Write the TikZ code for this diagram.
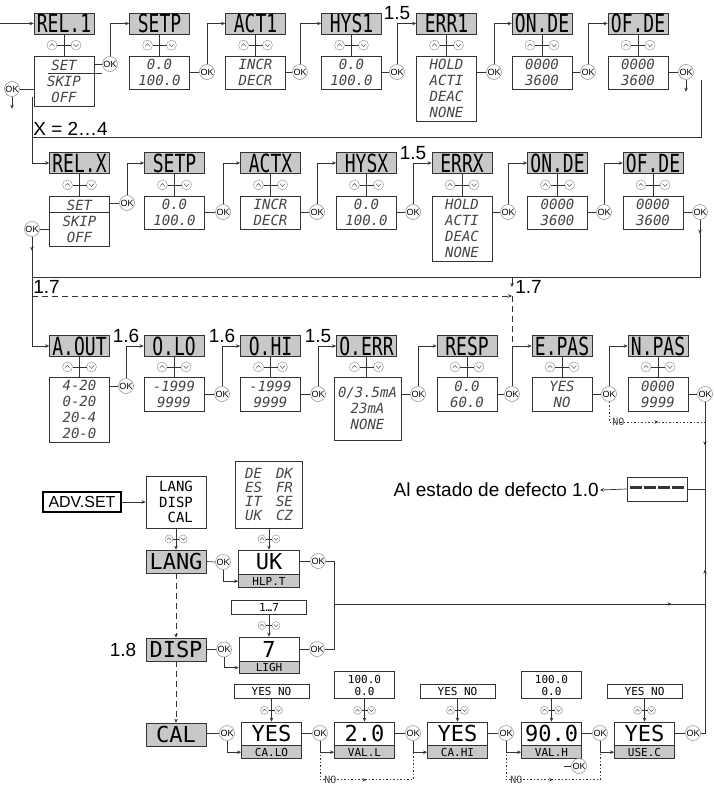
\documentclass[tikz,border=0pt]{standalone}
\usepackage{fontspec}
\setmainfont{Liberation Sans}
\newfontfamily\lcdfont{DejaVu Sans Mono}
\newfontfamily\lcdnarrow[FakeStretch=0.72]{DejaVu Sans Mono}
\usetikzlibrary{arrows.meta,positioning,calc,decorations.markings}

\definecolor{linec}{HTML}{333333}
\definecolor{hdrgray}{HTML}{C8C8C8}
\definecolor{okgray}{HTML}{9A9A9A}
\definecolor{segc}{HTML}{454545}

% up/down keys: centre, half gap, radius
\newcommand{\updown}[3]{%
  \begin{scope}[shift={(#1)}, line width=0.5pt]
    \draw[okgray, fill=white] (-#2,0) circle (#3pt) (#2,0) circle (#3pt);
    \draw[linec, line width=0.7pt] (-#2+#3,0) -- (#2-#3,0);
    \draw[okgray!60!black] (-#2-0.5*#3,0.25*#3) -- (-#2,-0.3*#3) -- (-#2+0.5*#3,0.25*#3);
    \draw[okgray!60!black] (#2-0.5*#3,-0.25*#3) -- (#2,0.3*#3) -- (#2+0.5*#3,-0.25*#3);
  \end{scope}}
\newcommand{\segdash}{\rule[3pt]{11.5pt}{2.2pt}}

\tikzset{
  hdr/.style={draw=linec, line width=0.7pt, fill=hdrgray, minimum width=60pt, minimum height=21pt,
    inner sep=0pt, text=black, font=\lcdnarrow\fontsize{25}{25}\selectfont},
  opt/.style={draw=linec, line width=0.7pt, fill=white, minimum width=60pt, inner sep=0pt,
    align=center, anchor=north, text=segc, font=\lcdfont\itshape\fontsize{14}{16}\selectfont},
  okc/.style={circle, draw=okgray, line width=0.6pt, fill=white, minimum size=15pt, inner sep=0pt,
    text=black, font=\fontsize{9}{9}\selectfont},
  lbl/.style={inner sep=1pt, text=black, font=\fontsize{19}{19}\selectfont},
  big/.style={draw=linec, line width=0.7pt, fill=white, minimum width=60pt, minimum height=24pt,
    inner sep=0pt, text=black, font=\lcdfont\fontsize{22}{22}\selectfont},
  subbox/.style={draw=linec, line width=0.7pt, fill=hdrgray, minimum width=60pt, minimum height=13pt,
    inner sep=0pt, anchor=north, text=black, font=\lcdfont\fontsize{11}{11}\selectfont},
  sel/.style={draw=linec, line width=0.7pt, fill=white, minimum width=75pt, minimum height=14pt,
    inner sep=0pt, align=center, text=black, font=\lcdfont\fontsize{11}{12}\selectfont},
  nolbl/.style={inner sep=1pt, text=segc, font=\lcdfont\fontsize{10}{10}\selectfont},
  dashline/.style={dash pattern=on 6pt off 4pt},
  dotline/.style={dash pattern=on 1.5pt off 2pt},
  midarrow/.style={postaction={decorate}, decoration={markings,
    mark=at position #1 with {\arrow{Stealth[length=4pt,width=3.5pt]}}}},
  >={Stealth[length=4pt,width=3.5pt]}
}

\begin{document}
\begin{tikzpicture}[x=1pt, y=-1pt, color=linec, line width=0.7pt]
\useasboundingbox (0,0) rectangle (714,789);

% relay 1
\foreach \n/\x/\txt in {rel1/64/REL.1, setp1/159.5/SETP, act1/255.5/ACT1, hys1/351.5/HYS1,
    err1/446.5/ERR1, onde1/542/ON.DE, ofde1/638/OF.DE}
  \node[hdr] (\n) at (\x,23.5) {\txt};
\node[opt, minimum height=50pt] (rel1-o) at (64,56) {SET\\SKIP\\OFF};
\node[opt, minimum height=33pt] (setp1-o) at (159.5,56) {0.0\\100.0};
\node[opt, minimum height=33pt] (act1-o) at (255.5,56) {INCR\\DECR};
\node[opt, minimum height=33pt] (hys1-o) at (351.5,56) {0.0\\100.0};
\node[opt, minimum height=65pt] (err1-o) at (446.5,56) {HOLD\\ACTI\\DEAC\\NONE};
\node[opt, minimum height=33pt] (onde1-o) at (542,56) {0000\\3600};
\node[opt, minimum height=33pt] (ofde1-o) at (638,56) {0000\\3600};
\foreach \n/\x/\y in {rel1/110/64, setp1/207/72, act1/300/72, hys1/397/72, err1/494/72,
    onde1/588/72, ofde1/686/72}
  \node[okc] (\n-ok) at (\x,\y) {OK};
\node[okc] (rel1-okl) at (12,89) {OK};
\draw (48,73) -- (102,73);

% relays 2..4
\foreach \n/\x/\txt in {relx/79.5/REL.X, setpx/174.5/SETP, actx/270.5/ACTX, hysx/366.5/HYSX,
    errx/462/ERRX, ondex/557.5/ON.DE, ofdex/653/OF.DE}
  \node[hdr] (\n) at (\x,163) {\txt};
\node[opt, minimum height=50pt] (relx-o) at (79.5,196) {SET\\SKIP\\OFF};
\node[opt, minimum height=33pt] (setpx-o) at (174.5,196) {0.0\\100.0};
\node[opt, minimum height=33pt] (actx-o) at (270.5,196) {INCR\\DECR};
\node[opt, minimum height=33pt] (hysx-o) at (366.5,196) {0.0\\100.0};
\node[opt, minimum height=65pt] (errx-o) at (462,196) {HOLD\\ACTI\\DEAC\\NONE};
\node[opt, minimum height=33pt] (ondex-o) at (557.5,196) {0000\\3600};
\node[opt, minimum height=33pt] (ofdex-o) at (653,196) {0000\\3600};
\foreach \n/\x/\y in {relx/127/203, setpx/223/212, actx/317/212, hysx/413/212, errx/508/212,
    ondex/604/212, ofdex/700/212}
  \node[okc] (\n-ok) at (\x,\y) {OK};
\node[okc] (relx-okl) at (32,229) {OK};
\draw (relx-o.west |- 0,212) -- (relx-o.east |- 0,212);

% analog output
\foreach \n/\x/\txt in {aout/79.5/A.OUT, olo/174/O.LO, ohi/270.5/O.HI, oerr/366.5/O.ERR,
    resp/467/RESP, epas/562/E.PAS, npas/658/N.PAS}
  \node[hdr] (\n) at (\x,346) {\txt};
\node[opt, minimum height=65pt] (aout-o) at (79.5,377) {4-20\\0-20\\20-4\\20-0};
\node[opt, minimum height=34pt] (olo-o) at (174,377) {-1999\\9999};
\node[opt, minimum height=34pt] (ohi-o) at (270.5,377) {-1999\\9999};
\node[opt, minimum height=63pt, minimum width=67pt] (oerr-o) at (367.5,377) {0/3.5mA\\23mA\\NONE};
\node[opt, minimum height=34pt] (resp-o) at (467,377) {0.0\\60.0};
\node[opt, minimum height=34pt] (epas-o) at (562,377) {YES\\NO};
\node[opt, minimum height=34pt] (npas-o) at (658,377) {0000\\9999};
\foreach \n/\x/\y in {aout/126/386, olo/222/394, ohi/318/394, oerr/418/394, resp/512/394,
    epas/609/394, npas/705/394}
  \node[okc] (\n-ok) at (\x,\y) {OK};

% keys and option lists
\foreach \a in {rel1, setp1, act1, hys1, err1, onde1, ofde1, relx, setpx, actx, hysx, errx,
    ondex, ofdex, aout, olo, ohi, oerr, resp, epas, npas}{
  \draw (\a.south) -- (\a.south |- \a-o.north);
  \updown{$(\a.south)!0.5!(\a.south |- \a-o.north)$}{12}{5}
  \draw (\a-ok.west) -- (\a-ok.west -| \a-o.east);
}
\draw (rel1-okl.east) -- (rel1-okl.east -| rel1-o.west);
\draw (relx-okl.east) -- (relx-okl.east -| relx-o.west);

\foreach \a/\b in {rel1/setp1, setp1/act1, act1/hys1, hys1/err1, err1/onde1, onde1/ofde1,
    relx/setpx, setpx/actx, actx/hysx, hysx/errx, errx/ondex, ondex/ofdex,
    aout/olo, olo/ohi, ohi/oerr, oerr/resp, resp/epas, epas/npas}
  \draw[->] (\a-ok.north) |- (\b.west);

\node[lbl, above=2pt] (l15a) at (hys1-ok |- err1.west) {1.5};
\node[lbl, above=2pt] (l15b) at (hysx-ok |- errx.west) {1.5};
\node[lbl, above=2pt] (l16a) at (aout-ok |- olo.west) {1.6};
\node[lbl, above=2pt] (l16b) at (olo-ok |- ohi.west) {1.6};
\node[lbl, above=2pt] (l15c) at (ohi-ok |- oerr.west) {1.5};

% loops between the rows
\coordinate (start) at (0,23.5);
\draw[->] (start) -- (rel1.west);
\coordinate (r1a) at (701,80);
\coordinate (r1b) at (701,137);
\coordinate (r1c) at (32,137);
\coordinate (r1d) at (32,97);
\draw (r1a) -- (r1b) -- (r1c);
\draw[->] (r1d) |- (relx.west);
\draw[->] (rel1-okl.south) -- ++(0,12);
\draw[->] (ofde1-ok.south) -- ++(0,12);
\node[lbl, anchor=south west] (xlbl) at (r1c) {X = 2…4};

\draw[->] (relx-okl.south) -- ++(0,14);
\draw[->] (relx-okl.south) |- (aout.west);
\coordinate (r2a) at (32,277);
\coordinate (r2b) at (512,277);
\draw[->] (ofdex-ok.south) -- ++(0,14);
\draw (ofdex-ok.south) |- (r2a);
\draw[->] (r2b) -- ++(0,10);
\coordinate (d1) at (32,296);
\coordinate (d2) at (512,296);
\draw[dashline, ->] (d1) -- (d2);
\draw[dashline] (d2) -- (resp-ok |- epas.west);
\node[lbl, anchor=south west] (l17a) at (32,295) {1.7};
\node[lbl, anchor=south west] (l17b) at (514,295) {1.7};

\coordinate (n1) at (705,422);
\draw[dotline, midarrow=0.6] (epas-ok.south) |- (n1);
\node[nolbl, anchor=west] (no0) at (611,422) {NO};

% back to default
\coordinate (r3a) at (705,489);
\coordinate (j1) at (705,604);
\coordinate (r4a) at (334,604);
\node[draw, minimum width=60pt, minimum height=24pt, inner sep=0pt, fill=white] (dflt) at (657,489)
  {\segdash\hspace{2.5pt}\segdash\hspace{2.5pt}\segdash\hspace{2.5pt}\segdash};
\node[lbl, anchor=east] (deftext) at (600,490) {Al estado de defecto 1.0};
\draw[midarrow=0.5] (npas-ok.south) -- (r3a);
\draw[midarrow=0.3] (j1) -- (r3a);
\draw (r3a) -- (dflt.east);
\draw[->] (dflt.west) -- (deftext.east);
\draw[midarrow=0.91] (r4a) -- (j1);

% advanced settings
\node[draw=black, line width=1.5pt, minimum width=78pt, minimum height=20pt, inner sep=0pt,
  text=black, font=\fontsize{16}{16}\selectfont] (advset) at (82,502) {ADV.SET};
\node[draw, minimum width=60pt, minimum height=52pt, inner sep=0pt, align=right, text=black,
  font=\lcdfont\fontsize{14}{15.5}\selectfont] (menu) at (176,502) {LANG\\DISP\\CAL};
\draw[->] (advset.east) -- (menu.west);
\node[hdr, minimum height=23pt, font=\lcdfont\fontsize{22}{22}\selectfont] (lang) at (176,561.5) {LANG};
\node[hdr, minimum height=23pt, font=\lcdfont\fontsize{22}{22}\selectfont] (disp) at (176,649.5) {DISP};
\node[hdr, minimum height=23pt, font=\lcdfont\fontsize{22}{22}\selectfont] (cal) at (176,734.5) {CAL};
\node[lbl, left=8pt] (l18) at (disp.west) {1.8};
\draw[->] (menu.south) -- (lang.north);
\updown{$(menu.south)!0.5!(lang.north)$}{7}{4}
\draw[dashline, ->] (lang.south) -- (disp.north);
\draw[dashline, ->] (disp.south) -- (cal.north);

\node[draw, minimum width=67pt, minimum height=67pt, inner sep=0pt, align=center, text=segc,
  font=\lcdfont\itshape\fontsize{14}{13.7}\selectfont] (langs) at (269,494.5)
  {DE\quad DK\\ES\quad FR\\IT\quad SE\\UK\quad CZ};
\node[big, minimum width=61pt] (uk) at (269,562) {UK};
\node[subbox, minimum width=61pt] (hlpt) at (uk.south) {HLP.T};
\draw[->] (langs.south) -- (uk.north);
\updown{$(langs.south)!0.5!(uk.north)$}{7}{4}
\node[okc] (lang-ok) at (223,562) {OK};
\node[okc] (uk-ok) at (318,561) {OK};
\draw (lang.east) -- (lang-ok.west);
\draw[->] (lang-ok.south) |- (hlpt.west);
\draw (uk.east |- uk-ok) -- (uk-ok.west);
\draw (uk-ok.east) -| (r4a);

\node[sel] (rng) at (269,607) {1…7};
\node[big] (seven) at (269,649) {7};
\node[subbox, minimum height=12pt] (ligh) at (seven.south) {LIGH};
\draw[->] (rng.south) -- (seven.north);
\updown{$(rng.south)!0.5!(seven.north)$}{7}{4}
\node[okc] (disp-ok) at (224,649.5) {OK};
\node[okc] (seven-ok) at (317,649) {OK};
\draw (disp.east) -- (disp-ok.west);
\draw[->] (disp-ok.south) |- (ligh.west);
\draw (seven.east) -- (seven-ok.west);
\draw (seven-ok.east) -| (r4a);

% calibration
\foreach \n/\x/\val/\sub in {calo/271.5/YES/CA.LO, vall/364.5/2.0/VAL.L, cahi/457.5/YES/CA.HI,
    valh/551.5/90.0/VAL.H, usec/644.5/YES/USE.C}{
  \node[big, minimum height=23pt] (\n) at (\x,733.5) {\val};
  \node[subbox] (\n-s) at (\n.south) {\sub};
  \node[okc] (\n-ok) at (\x+48.5,733) {OK};
  \draw (\n-ok.west) -- (\n-ok.west -| \n.east);
}
\foreach \n in {calo, cahi, usec}
  \node[sel, anchor=south] (\n-t) at (\n.north |- 0,699) {YES NO};
\foreach \n in {vall, valh}
  \node[sel, anchor=south, minimum width=60pt, minimum height=27pt] (\n-t) at (\n.north |- 0,699) {100.0\\0.0};
\foreach \n in {calo, vall, cahi, valh, usec}{
  \draw[->] (\n-t.south) -- (\n.north);
  \updown{$(\n-t.south)!0.5!(\n.north)$}{7}{4}
}
\node[okc] (cal-ok) at (227,733) {OK};
\draw (cal.east |- cal-ok) -- (cal-ok.west);
\foreach \a/\b in {cal/calo, calo/vall, vall/cahi, cahi/valh, valh/usec}
  \draw[->] (\a-ok.south) |- (\b-s.west);
\draw (usec-ok.east) -| (j1);
\draw[dotline, midarrow=0.5] (calo-ok.south) -- ++(0,39) coordinate (no1) -| (vall-ok.south);
\draw[dotline, midarrow=0.5] (cahi-ok.south) -- ++(0,39) coordinate (no2) -| (valh-ok.south);
\node[nolbl, anchor=west] (no1l) at ($(no1)+(3,0)$) {NO};
\node[nolbl, anchor=west] (no2l) at ($(no2)+(3,0)$) {NO};
\node[okc] (valh-ok2) at (579,766) {OK};
\draw (valh-ok2.west) -- ++(-7,0);

\end{tikzpicture}
\end{document}
